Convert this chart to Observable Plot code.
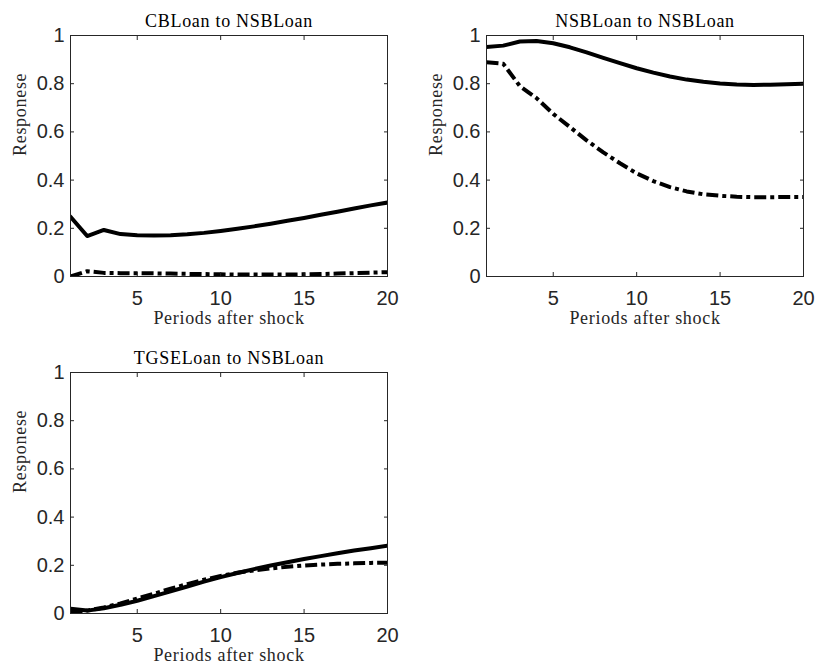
<!DOCTYPE html>
<html>
<head>
<meta charset="utf-8">
<script src="https://cdn.jsdelivr.net/npm/d3@7"></script>
<script src="https://cdn.jsdelivr.net/npm/@observablehq/plot@0.6"></script>
<style>
  body { margin: 0; background: #fff; }
  #fig { position: relative; width: 815px; height: 666px; overflow: hidden; }
  #fig > .panel { position: absolute; }
  g[aria-description="serif label"] text { letter-spacing: 0.7px; }
</style>
</head>
<body>
<div id="fig"></div>
<script>
// Horizon of the impulse responses
const periods = [1, 2, 3, 4, 5, 6, 7, 8, 9, 10, 11, 12, 13, 14, 15, 16, 17, 18, 19, 20];

// CBLoan -> NSBLoan
const cbSolid = [0.248, 0.168, 0.193, 0.176, 0.171, 0.170, 0.171, 0.175, 0.181, 0.189,
                 0.198, 0.208, 0.219, 0.231, 0.243, 0.256, 0.269, 0.282, 0.295, 0.307];
const cbDash  = [0.000, 0.022, 0.015, 0.014, 0.014, 0.013, 0.012, 0.011, 0.010, 0.009,
                 0.008, 0.008, 0.008, 0.008, 0.009, 0.010, 0.012, 0.014, 0.016, 0.018];

// NSBLoan -> NSBLoan
const nsbSolid = [0.952, 0.958, 0.975, 0.977, 0.968, 0.951, 0.930, 0.907, 0.885, 0.864,
                  0.846, 0.830, 0.817, 0.808, 0.801, 0.797, 0.795, 0.796, 0.798, 0.800];
const nsbDash  = [0.889, 0.883, 0.790, 0.740, 0.675, 0.620, 0.565, 0.515, 0.470, 0.428,
                  0.396, 0.371, 0.353, 0.341, 0.335, 0.331, 0.329, 0.329, 0.330, 0.330];

// TGSELoan -> NSBLoan
const tgseSolid = [0.020, 0.012, 0.022, 0.036, 0.053, 0.072, 0.092, 0.112, 0.132, 0.151,
                   0.168, 0.184, 0.199, 0.213, 0.226, 0.238, 0.250, 0.261, 0.271, 0.281];
const tgseDash  = [0.005, 0.012, 0.025, 0.042, 0.062, 0.082, 0.103, 0.122, 0.140, 0.156,
                   0.169, 0.179, 0.187, 0.194, 0.199, 0.203, 0.206, 0.208, 0.210, 0.211];

const panelTitles = ["CBLoan to NSBLoan", "NSBLoan to NSBLoan", "TGSELoan to NSBLoan"];
const xTicks = [5, 10, 15, 20];
const yTicks = [0, 0.2, 0.4, 0.6, 0.8, 1];
const xLabel = "Periods after shock";
const yLabel = "Responese";

// Grid placement of the three subplots
const layout = [
  {left: 0,   top: 0,   width: 410, height: 340, mt: 35, mr: 23, mb: 64, ml: 70},
  {left: 410, top: 0,   width: 405, height: 340, mt: 35, mr: 12, mb: 64, ml: 76},
  {left: 0,   top: 340, width: 410, height: 326, mt: 32, mr: 23, mb: 53, ml: 70}
];
const series = [[cbSolid, cbDash], [nsbSolid, nsbDash], [tgseSolid, tgseDash]];

const rows = (vals) => periods.map((p, i) => ({period: p, value: vals[i]}));
const sans = "'Liberation Sans', Arial, Helvetica, sans-serif";
const serif = "'Liberation Serif', 'Times New Roman', serif";
const axisColor = "#262626";

function subplot(title, solid, dash, g) {
  return Plot.plot({
    width: g.width,
    height: g.height,
    marginTop: g.mt,
    marginRight: g.mr,
    marginBottom: g.mb,
    marginLeft: g.ml,
    style: {background: "transparent", color: axisColor, overflow: "visible"},
    x: {domain: [1, 20]},
    y: {domain: [0, 1]},
    marks: [
      Plot.line(rows(solid), {x: "period", y: "value", stroke: "#000", strokeWidth: 4,
        strokeLinejoin: "round", clip: true}),
      Plot.line(rows(dash), {x: "period", y: "value", stroke: "#000", strokeWidth: 4,
        strokeLinejoin: "round", strokeLinecap: "butt", strokeDasharray: "12,4,4,4", clip: true}),
      Plot.frame({stroke: axisColor, strokeWidth: 1}),
      // inward tick marks on all four sides
      Plot.axisX(xTicks, {anchor: "bottom", tickSize: 4, dy: -4, fill: "none", label: null}),
      Plot.axisX(xTicks, {anchor: "top", tickSize: 4, dy: 4, fill: "none", label: null}),
      Plot.axisY(yTicks, {anchor: "left", tickSize: 4, dx: 4, fill: "none", label: null}),
      Plot.axisY(yTicks, {anchor: "right", tickSize: 4, dx: -4, fill: "none", label: null}),
      // tick labels
      Plot.axisX(xTicks, {anchor: "bottom", tickSize: 0, tickPadding: 14, fontSize: 20,
        fontFamily: sans, label: null, tickFormat: (d) => String(d)}),
      Plot.axisY(yTicks, {anchor: "left", tickSize: 0, tickPadding: 6, fontSize: 20,
        fontFamily: sans, label: null, tickFormat: (d) => String(d)}),
      // titles
      Plot.text([title], {frameAnchor: "top", dy: -9, lineAnchor: "bottom", fontSize: 18,
        fontFamily: serif, fill: "#000", ariaDescription: "serif label"}),
      Plot.text([xLabel], {frameAnchor: "bottom", dy: 47, lineAnchor: "bottom", fontSize: 18,
        fontFamily: serif, fill: axisColor, ariaDescription: "serif label"}),
      Plot.text([yLabel], {frameAnchor: "left", dx: -45, rotate: -90, lineAnchor: "bottom",
        fontSize: 18, fontFamily: serif, fill: axisColor, ariaDescription: "serif label"})
    ]
  });
}

const fig = document.getElementById("fig");
layout.forEach((g, i) => {
  const holder = document.createElement("div");
  holder.className = "panel";
  holder.style.left = g.left + "px";
  holder.style.top = g.top + "px";
  holder.appendChild(subplot(panelTitles[i], series[i][0], series[i][1], g));
  fig.appendChild(holder);
});
</script>
</body>
</html>
